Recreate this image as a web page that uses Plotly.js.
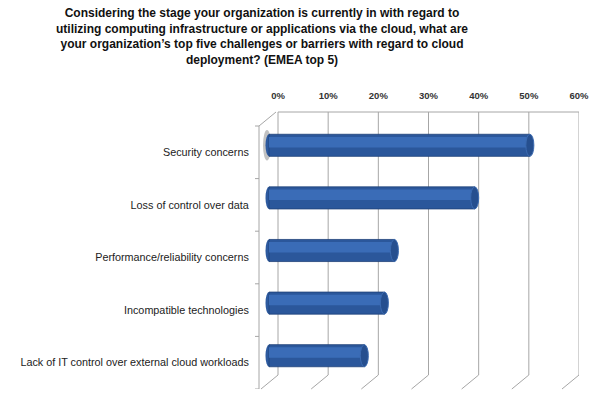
<!DOCTYPE html>
<html>
<head>
<meta charset="utf-8">
<script src="https://cdn.plot.ly/plotly-3.0.1.min.js"></script>
<style>html,body{margin:0;padding:0;background:#fff}#chart{width:600px;height:399px}</style>
</head>
<body>
<div id="chart"></div>
<script>
// Data
var categories = [
  "Security concerns",
  "Loss of control over data",
  "Performance/reliability concerns",
  "Incompatible technologies",
  "Lack of IT control over external cloud workloads"
];
var values = [52, 41, 25, 23, 19];
var tickVals = [0, 10, 20, 30, 40, 50, 60];
var tickText = ["0%", "10%", "20%", "30%", "40%", "50%", "60%"];

var W = 600, H = 399;
var L = 259, R = 21, T = 112, B = 10;
var plotW = W - L - R, plotH = H - T - B;
var pxPer = 301 / 60;            // pixels per percent
var barZeroPx = 269;             // middle-depth zero
var backZeroPx = 278;            // back-wall zero
var backBottomPx = 375;          // back wall bottom
var frontTopPx = 126;
var depthX = 17;                 // oblique depth offset
var catPx = (389 - 126) / 5;

function paperY(p){ return (H - B - p) / plotH; }

var xRangeBars = [-(barZeroPx - L) / pxPer, (L + plotW - barZeroPx) / pxPer];
var xRangeBack = [-(backZeroPx - L) / pxPer, (L + plotW - backZeroPx) / pxPer];
var midTop = 119;
var yRangeBars = [ (389 - midTop) / catPx - 0.5, -0.5 - (midTop - T) / catPx ];
var yRangeFront = [ (389 - frontTopPx) / catPx - 0.5, -0.5 - (frontTopPx - T) / catPx ];

var barWidth = 0.42;
var traces = [
  {
    type: 'bar', orientation: 'h', x: values, y: categories,
    xaxis: 'x', yaxis: 'y', width: barWidth,
    marker: {color: '#2b579b', line: {color: '#1f4178', width: 0.8}},
    hoverinfo: 'x+y'
  },
  {
    type: 'bar', orientation: 'h', x: values, y: categories,
    xaxis: 'x', yaxis: 'y', width: 0.2, offset: -0.16,
    marker: {color: '#3a6cb7', line: {width: 0}},
    hoverinfo: 'skip'
  },
  {
    type: 'scatter', mode: 'none', x: [0, 60], y: [categories[0], categories[4]],
    xaxis: 'x2', yaxis: 'y2', hoverinfo: 'skip', showlegend: false
  }
];

var shapes = [];
var gridCol = '#a6a6a6';
// back wall gridlines + floor slants
tickVals.forEach(function(t){
  shapes.push({type:'line', xref:'x2', yref:'paper', x0:t, x1:t, y0:paperY(backBottomPx), y1:1,
    line:{color:gridCol, width:1}, layer:'below'});
  shapes.push({type:'line', xref:'x2', xsizemode:'pixel', xanchor:t, x0:0, x1:-depthX,
    yref:'paper', y0:paperY(backBottomPx), y1:0, line:{color:gridCol, width:1}, layer:'below'});
});
// back wall top edge
shapes.push({type:'line', xref:'x2', yref:'paper', x0:0, x1:60, y0:1, y1:1, line:{color:gridCol, width:1}, layer:'below'});
// left wall
shapes.push({type:'line', xref:'paper', yref:'paper', x0:0, x1:0, y0:0, y1:paperY(frontTopPx), line:{color:gridCol, width:1}, layer:'below'});
shapes.push({type:'line', xref:'paper', yref:'paper', x0:0, x1:depthX/plotW, y0:paperY(frontTopPx), y1:1, line:{color:gridCol, width:1}, layer:'below'});
// left wall category ticks
for (var k = -0.5; k <= categories.length - 0.5; k += 1) {
  shapes.push({type:'line', xref:'paper', xsizemode:'pixel', xanchor:0, x0:-4, x1:0,
    yref:'y2', y0:k, y1:k, line:{color:gridCol, width:1}});
}
// soft shadow at first bar start
shapes.push({type:'circle', xref:'x', xsizemode:'pixel', xanchor:0, x0:-6, x1:2,
  yref:'y', y0:-barWidth/2 - 0.08, y1:barWidth/2 + 0.08,
  fillcolor:'rgba(120,120,120,0.45)', line:{width:0}, layer:'below'});
// cylinder caps
values.forEach(function(v, i){
  shapes.push({type:'circle', xref:'x', xsizemode:'pixel', xanchor:0, x0:-3.5, x1:3.5,
    yref:'y', y0:i - barWidth/2, y1:i + barWidth/2,
    fillcolor:'#2d5a9f', line:{width:0}, layer:'below'});
  shapes.push({type:'circle', xref:'x', xsizemode:'pixel', xanchor:v, x0:-4, x1:4,
    yref:'y', y0:i - barWidth/2, y1:i + barWidth/2,
    fillcolor:'#264f8f', line:{color:'#3b6ab0', width:1}});
});

var layout = {
  width: W, height: H,
  margin: {l: L, r: R, t: T, b: B, pad: 0},
  paper_bgcolor: '#fff', plot_bgcolor: 'rgba(0,0,0,0)',
  showlegend: false, barmode: 'overlay',
  title: {
    text: 'Considering the stage your organization is currently in with regard to<br>utilizing computing infrastructure or applications via the cloud, what are<br>your organization\u2019s top five challenges or barriers with regard to cloud<br>deployment? (EMEA top 5)',
    font: {family: 'Liberation Sans, Arial, sans-serif', size: 12, color: '#111', weight: 'bold'},
    x: 262 / W, xref: 'container', xanchor: 'center',
    y: 1 - 17 / H, yref: 'container', yanchor: 'top'
  },
  xaxis: {
    range: xRangeBars, domain: [0, 1], showgrid: false, zeroline: false,
    showticklabels: false, ticks: '', showline: false, fixedrange: true
  },
  xaxis2: {
    range: xRangeBack, overlaying: 'x', side: 'top', anchor: 'y',
    tickvals: tickVals, ticktext: tickText, showgrid: false, zeroline: false,
    ticks: 'outside', ticklen: 8, tickcolor: 'rgba(0,0,0,0)',
    tickfont: {family: 'Liberation Sans, Arial, sans-serif', size: 9.5, color: '#333', weight: 'bold'},
    showline: false
  },
  yaxis: {
    range: yRangeBars, type: 'category', categoryorder: 'array', categoryarray: categories,
    showticklabels: false, showgrid: false, zeroline: false, ticks: '', showline: false
  },
  yaxis2: {
    range: yRangeFront, type: 'category', categoryorder: 'array', categoryarray: categories,
    overlaying: 'y', side: 'left', anchor: 'x',
    showgrid: false, zeroline: false, showline: false,
    ticks: 'outside', ticklen: 7, tickcolor: 'rgba(0,0,0,0)',
    tickfont: {family: 'Liberation Sans, Arial, sans-serif', size: 10.8, color: '#222'}
  },
  shapes: shapes
};

Plotly.newPlot('chart', traces, layout, {displayModeBar: false, staticPlot: true});
</script>
</body>
</html>
